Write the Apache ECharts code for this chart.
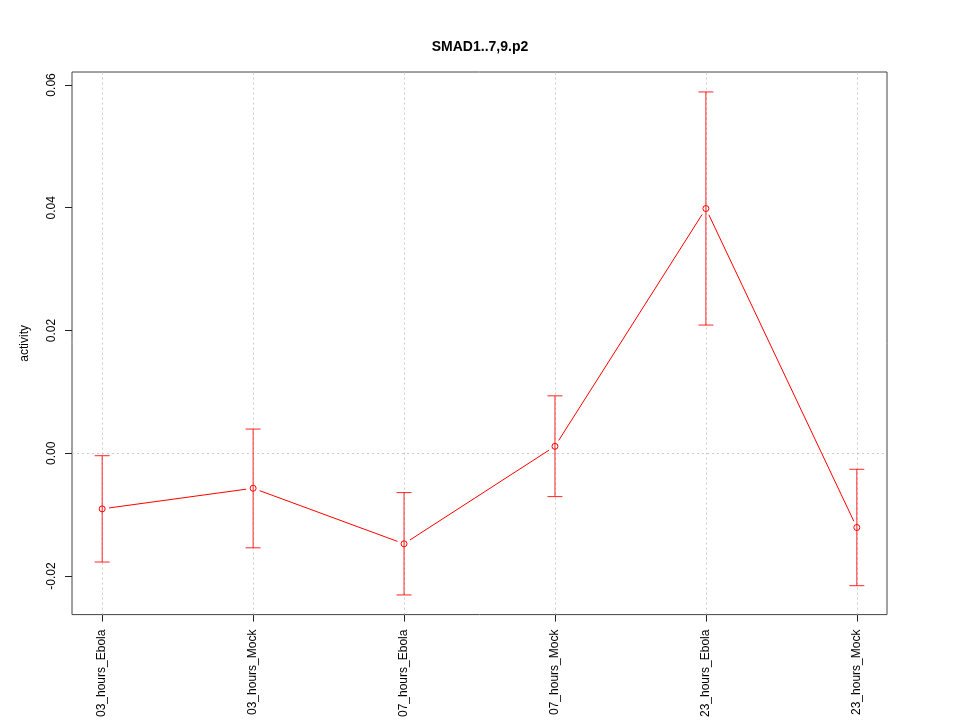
<!DOCTYPE html>
<html>
<head>
<meta charset="utf-8">
<script src="https://cdn.jsdelivr.net/npm/echarts@6/dist/echarts.min.js"></script>
<style>html,body{margin:0;padding:0;background:#fff}#c{width:960px;height:720px}</style>
</head>
<body>
<div id="c"></div>
<script>
const categories = ["03_hours_Ebola", "03_hours_Mock", "07_hours_Ebola", "07_hours_Mock", "23_hours_Ebola", "23_hours_Mock"];
const means  = [-0.00905, -0.00569, -0.01474, 0.00114, 0.03987, -0.01209];
const lowers = [-0.01771, -0.01539, -0.02307, -0.00705, 0.02089, -0.02156];
const uppers = [-0.00039, 0.00395, -0.00640, 0.00936, 0.05886, -0.00260];
const yTicks = [-0.02, 0.00, 0.02, 0.04, 0.06];
const xTicks = categories.map((c, i) => i);

const chart = echarts.init(document.getElementById('c'), null, {renderer: 'canvas'});
const RED = '#ff0000';
const FONT = 'Liberation Sans, Arial, Helvetica, sans-serif';

function renderItem(params, api) {
  const i = api.value(0);
  const p = api.coord([i, api.value(1)]);
  const lo = api.coord([i, api.value(2)]);
  const hi = api.coord([i, api.value(3)]);
  const cap = 7.5;
  const children = [
    {type: 'line', shape: {x1: p[0], y1: hi[1], x2: p[0], y2: lo[1]}, style: {stroke: RED, lineWidth: 1, opacity: 0.85}},
    {type: 'line', shape: {x1: p[0] - cap, y1: hi[1], x2: p[0] + cap, y2: hi[1]}, style: {stroke: RED, lineWidth: 1, opacity: 0.85}},
    {type: 'line', shape: {x1: p[0] - cap, y1: lo[1], x2: p[0] + cap, y2: lo[1]}, style: {stroke: RED, lineWidth: 1, opacity: 0.85}},
    {type: 'circle', shape: {cx: p[0], cy: p[1], r: 3}, style: {stroke: RED, fill: null, lineWidth: 1}}
  ];
  if (i < means.length - 1) {
    const q = api.coord([i + 1, means[i + 1]]);
    const dx = q[0] - p[0], dy = q[1] - p[1];
    const len = Math.sqrt(dx * dx + dy * dy);
    const g = 7;
    if (len > 2 * g) {
      const ux = dx / len, uy = dy / len;
      children.push({type: 'line', shape: {x1: p[0] + ux * g, y1: p[1] + uy * g, x2: q[0] - ux * g, y2: q[1] - uy * g}, style: {stroke: RED, lineWidth: 1}});
    }
  }
  return {type: 'group', children: children};
}

const option = {
  animation: false,
  backgroundColor: '#fff',
  title: {
    text: 'SMAD1..7,9.p2', left: 'center', top: 35,
    textStyle: {fontFamily: FONT, fontSize: 14, fontWeight: 'bold', color: '#000'}
  },
  grid: {left: 72, right: 73, top: 72, bottom: 104, show: true, borderColor: '#444', borderWidth: 1, backgroundColor: 'transparent'},
  xAxis: {
    type: 'value', min: -0.2, max: 5.2,
    axisLine: {show: false, onZero: false},
    splitLine: {show: false},
    axisTick: {show: true, customValues: xTicks, length: 7, lineStyle: {color: '#222'}},
    axisLabel: {
      customValues: xTicks, rotate: 90, margin: 15,
      formatter: v => categories[Math.round(v)],
      fontFamily: FONT, fontSize: 12, color: '#000'
    }
  },
  yAxis: {
    type: 'value', min: -0.02627, max: 0.06211,
    name: 'activity', nameLocation: 'middle', nameGap: 41, nameRotate: 90,
    nameTextStyle: {fontFamily: FONT, fontSize: 12, color: '#000'},
    axisLine: {show: false, onZero: false},
    splitLine: {show: false},
    axisTick: {show: true, customValues: yTicks, length: 7, lineStyle: {color: '#222'}},
    axisLabel: {
      customValues: yTicks, rotate: 90, margin: 14,
      formatter: v => v.toFixed(2),
      fontFamily: FONT, fontSize: 12, color: '#000'
    }
  },
  series: [
    {
      type: 'scatter', symbolSize: 0, data: [], silent: true, z: 1,
      markLine: {
        silent: true, symbol: 'none', label: {show: false},
        lineStyle: {type: [2, 3], color: '#cccccc', width: 1},
        data: xTicks.map(v => ({xAxis: v})).concat([{yAxis: 0}])
      }
    },
    {
      type: 'custom', z: 5, renderItem: renderItem,
      data: categories.map((c, i) => [i, means[i], lowers[i], uppers[i]])
    }
  ]
};
chart.setOption(option);
</script>
</body>
</html>
